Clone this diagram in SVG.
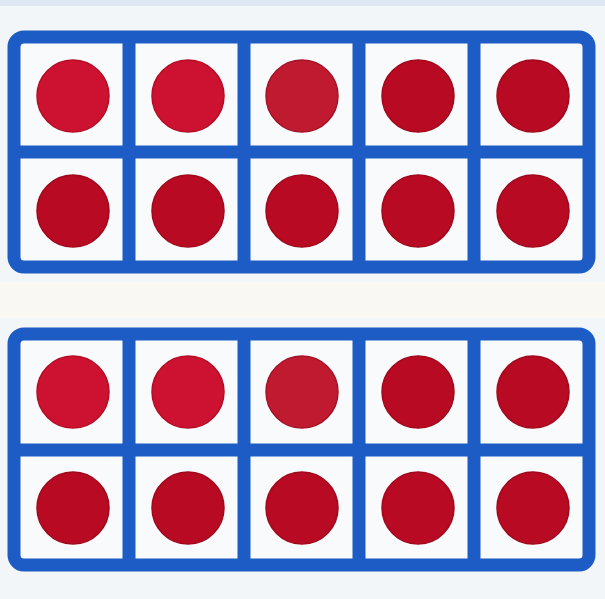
<svg xmlns="http://www.w3.org/2000/svg" width="605" height="599" viewBox="0 0 605 599">
<style>
.frame{fill:#f8fafc;stroke:#1c5cc4;stroke-width:13;stroke-linejoin:round}
.div{stroke:#1c5cc4;stroke-width:13;fill:none}
.a{fill:#cc1230;stroke:#b50c26;stroke-width:1.5}
.b{fill:#b80a22;stroke:#a0081c;stroke-width:1.5}
.c{fill:#bf1a30;stroke:#a41226;stroke-width:1.5}
</style>
<rect width="605" height="599" fill="#f3f6f9"/>
<rect width="605" height="6" fill="#dde8f2"/>
<rect x="0" y="282" width="605" height="36" fill="#faf8f2"/>
<g id="frame1">
<rect class="frame" x="14" y="37" width="575" height="230" rx="10"/>
<path class="div" d="M129 37V267M244 37V267M359 37V267M474 37V267M14 152H589"/>
<circle class="a" cx="73" cy="96" r="36"/>
<circle class="a" cx="188" cy="96" r="36"/>
<circle class="c" cx="302" cy="96" r="36"/>
<circle class="b" cx="418" cy="96" r="36"/>
<circle class="b" cx="533" cy="96" r="36"/>
<circle class="b" cx="73" cy="211" r="36"/>
<circle class="b" cx="188" cy="211" r="36"/>
<circle class="b" cx="302" cy="211" r="36"/>
<circle class="b" cx="418" cy="211" r="36"/>
<circle class="b" cx="533" cy="211" r="36"/>
</g>
<g id="frame2">
<rect class="frame" x="14" y="334" width="575" height="231" rx="10"/>
<path class="div" d="M129 334V565M244 334V565M359 334V565M474 334V565M14 450H589"/>
<circle class="a" cx="73" cy="392" r="36"/>
<circle class="a" cx="188" cy="392" r="36"/>
<circle class="c" cx="302" cy="392" r="36"/>
<circle class="b" cx="418" cy="392" r="36"/>
<circle class="b" cx="533" cy="392" r="36"/>
<circle class="b" cx="73" cy="508" r="36"/>
<circle class="b" cx="188" cy="508" r="36"/>
<circle class="b" cx="302" cy="508" r="36"/>
<circle class="b" cx="418" cy="508" r="36"/>
<circle class="b" cx="533" cy="508" r="36"/>
</g>
</svg>
